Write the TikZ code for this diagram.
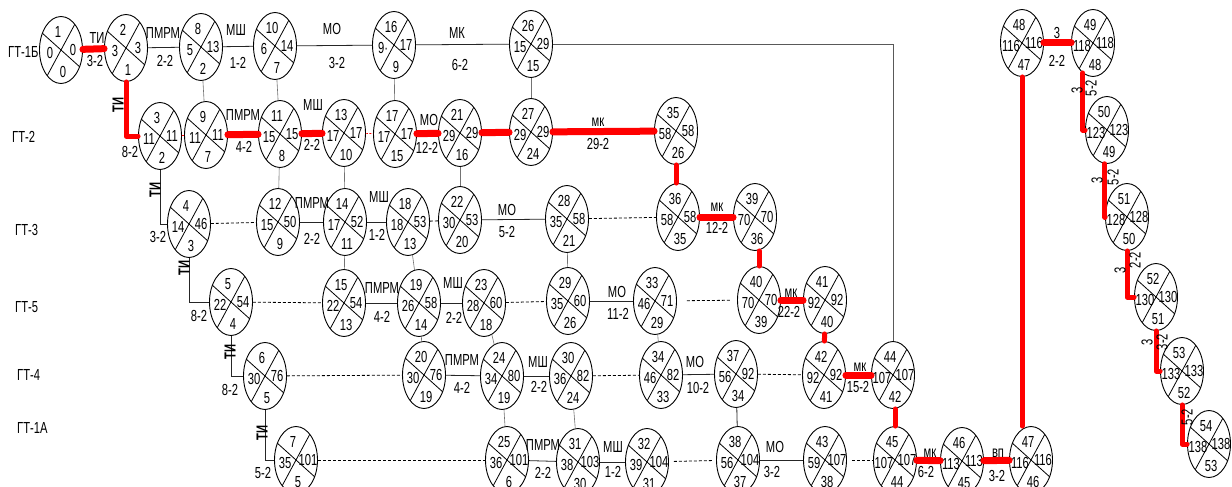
\documentclass[tikz,border=0pt]{standalone}
\usepackage{fontspec}
\setmainfont[FakeStretch=0.7]{Liberation Sans}
\usetikzlibrary{shapes.geometric,calc}
\tikzset{
 nd/.style={ellipse,draw,line width=0.9pt,minimum width=43pt,minimum height=67pt,inner sep=0pt},
 ndline/.style={line width=0.8pt},
 num/.style={inner sep=0pt,font=\fontsize{16}{16}\selectfont},
 lab/.style={inner sep=0pt,font=\fontsize{16}{16}\selectfont},
 rlab/.style={lab,rotate=90},
 tilab/.style={lab,rotate=90,font=\fontsize{16}{16}\selectfont\bfseries},
 crit/.style={draw=red,line width=7pt,line cap=round},
 critv/.style={draw=red,line width=5pt,line cap=round,line join=round},
 wk/.style={draw=black!85,line width=0.8pt},
 gline/.style={draw=black!65,line width=0.9pt},
 dsh/.style={draw=black,line width=0.8pt,dash pattern=on 3pt off 2pt},
 vlink/.style={draw=black!55,line width=0.6pt},
 rdot/.style={draw=red,line width=0.6pt,dash pattern=on 2pt off 1.5pt},
}
\newcommand\mynode[7]{%
  \node[nd] (#1) at (#2,#3) {};
  \draw[ndline] ($(#1.center)+(-18.6,-16.75)$) -- ($(#1.center)+(18.6,16.75)$);
  \draw[ndline] ($(#1.center)+(-13.8,25.7)$) -- ($(#1.center)+(13.8,-25.7)$);
  \node[num] (#1t) at ($(#1.center)+(-3,-18)$) {#4};
  \node[num] (#1l) at ($(#1.center)+(-11,3)$) {#5};
  \node[num] (#1r) at ($(#1.center)+(12,0)$) {#6};
  \node[num] (#1b) at ($(#1.center)+(2,22)$) {#7};
}
\begin{document}
\begin{tikzpicture}[x=1pt,y=-1pt]
\fill[white] (0,0) rectangle (1232,487);
\useasboundingbox (0,0) rectangle (1232,487);
% row labels
\node[lab,anchor=west] (g1) at (8,52) {ГТ-1Б};
\node[lab,anchor=west] (g2) at (12,137) {ГТ-2};
\node[lab,anchor=west] (g3) at (15,230) {ГТ-3};
\node[lab,anchor=west] (g5) at (15,307) {ГТ-5};
\node[lab,anchor=west] (g4) at (17,375) {ГТ-4};
\node[lab,anchor=west] (g1a) at (17,428) {ГТ-1А};
% nodes row 1
\mynode{n1}{61}{50}{1}{0}{0}{0}
\mynode{n2}{126}{48}{2}{3}{3}{1}
\mynode{n8}{201}{47}{8}{5}{13}{2}
\mynode{n10}{275}{46}{10}{6}{14}{7}
\mynode{n16}{394}{45}{16}{9·}{17}{9}
\mynode{n26}{531}{44}{26}{15}{29}{15}
% row 2
\mynode{n3}{160}{136}{3}{11}{11}{2}
\mynode{n9}{206}{135}{9}{11}{11}{7}
\mynode{n11}{280}{134}{11}{15}{15}{8}
\mynode{n13}{344}{133}{13}{17}{17}{10}
\mynode{n17}{395}{134}{17}{17}{17}{15}
\mynode{n21}{460}{133}{21}{29}{29}{16}
\mynode{n27}{531}{132}{27}{29}{29}{24}
\mynode{n35}{676}{131}{35}{58}{58}{26}
% row 3
\mynode{n4}{189}{224}{4}{14}{46}{3}
\mynode{n12}{278}{222}{12}{15}{50}{9}
\mynode{n14}{345}{222}{14}{17}{52}{11}
\mynode{n18}{408}{222}{18}{18}{53}{13}
\mynode{n22}{460}{220}{22}{30}{53}{20}
\mynode{n28}{567}{219}{28}{35}{58}{21}
\mynode{n36}{678}{217}{36}{58}{58}{35}
\mynode{n39}{755}{217}{39}{70}{70}{36}
% row 4
\mynode{n5}{231}{302}{5}{22}{54}{4}
\mynode{n15}{344}{303}{15}{22}{54}{13}
\mynode{n19}{419}{303}{19}{26}{58}{14}
\mynode{n23}{484}{303}{23}{28}{60}{18}
\mynode{n29}{568}{301}{29}{35}{60}{26}
\mynode{n33}{655}{301}{33}{46}{71}{29}
\mynode{n40}{759}{300}{40}{70}{70}{39}
\mynode{n41}{825}{300}{41}{92}{92}{40}
% row 5
\mynode{n6}{265}{376}{6}{30}{76}{5}
\mynode{n20}{424}{375}{20}{30}{76}{19}
\mynode{n24}{502}{376}{24}{34}{80}{19}
\mynode{n30}{571}{376}{30}{36}{82}{24}
\mynode{n34}{661}{375}{34}{46}{82}{33}
\mynode{n37}{736}{374}{37}{56}{92}{34}
\mynode{n42}{824}{375}{42}{92}{92}{41}
\mynode{n44}{893}{375}{44}{107}{107}{42}
% row 6
\mynode{n7}{296}{460}{7}{35}{101}{5}
\mynode{n25}{507}{460}{25}{36}{101}{6}
\mynode{n31}{578}{462}{31}{38}{103}{30}
\mynode{n32}{647}{462}{32}{39}{104}{31}
\mynode{n38}{738}{460}{38}{56}{104}{37}
\mynode{n43}{825}{460}{43}{59}{107}{38}
\mynode{n45}{895}{460}{45}{107}{107}{44}
\mynode{n46}{962}{461}{46}{113}{113}{45}
\mynode{n47}{1031}{460}{47}{116}{116}{46}
% right cluster
\mynode{n48}{1022}{43}{48}{116}{116}{47}
\mynode{n49}{1093}{43}{49}{118}{118}{48}
\mynode{n50}{1107}{130}{50}{123}{123}{49}
\mynode{n51}{1127}{217}{51}{128}{128}{50}
\mynode{n52}{1156}{297}{52}{130}{130}{51}
\mynode{n53}{1182}{371}{53}{133}{133}{52}
\mynode{n54}{1209}{444}{54}{138}{138}{53}
% thin work lines
\foreach \a/\b in {n2/n8,n8/n10,n10/n16,n16/n26,n12/n14,n14/n18,n22/n28,n15/n19,n19/n23,n29/n33,n20/n24,n24/n30,n34/n37,n25/n31,n31/n32,n38/n43}
  \draw[wk] (\a) -- (\b);
\draw[gline] (n26) -| (n44);
% dashed
\foreach \a/\b in {n4/n12,n18/n22,n28/n36,n5/n15,n23/n29,n6/n20,n30/n34,n37/n42,n7/n25}
  \draw[dsh] (\a) -- (\b);
\draw[dsh,shorten <=10pt,shorten >=6pt] (n33) -- (n40);
\draw[dsh,shorten <=5pt,shorten >=3pt] (n32) -- (n38);
\draw[dsh,shorten <=5pt] (n43) -- (n45);
% vertical links
\foreach \a/\b in {n8/n9,n10/n11,n16/n17,n26/n27,n11/n12,n13/n14,n21/n22,n14/n15,n18/n19,n28/n29,n19/n20,n23/n24,n33/n34,n24/n25,n30/n31}
  \draw[vlink] (\a) -- (\b);
\draw[wk] (n37) -- (n38);
% red dotted
\draw[rdot] (n3) -- (n9);
\draw[rdot] (n13) -- (n17);
% black elbows
\draw[wk] (n3.south) |- (n4.west);
\draw[wk] (n4.south) |- (n5.west);
\draw[wk] (n5.south) |- (n6.west);
\draw[wk] (n6.south) |- (n7.west);
% critical path
\foreach \a/\b in {n1/n2,n9/n11,n11/n13,n17/n21,n21/n27,n27/n35,n36/n39,n40/n41,n42/n44,n45/n46,n46/n47,n48/n49}
  \draw[crit] (\a) -- (\b);
\draw[critv] (n2.south) |- (n3.west);
\draw[critv] (n35.south) -- (n35.south |- n36.north);
\draw[critv] (n40.north |- n39.south) -- (n40.north);
\draw[critv] (n41) -- (n42);
\draw[critv] (n45.north |- n44.south) -- (n45.north);
\draw[critv] (n48.south) -- (n48.south |- n47.north);
\draw[critv] (n49.251) |- (n50.west);
\draw[critv] (n50.266) |- (n51.west);
\draw[critv] (n51.south) |- (n52.west);
\draw[critv] (n52.south) |- (n53.west);
\draw[critv] (n53.south) |- (n54.west);
% edge labels
\node[lab] (e1a) at (97,38) {ТИ};   \node[lab] (e1b) at (95,61) {3-2};
\node[lab] (e2a) at (163,33) {ПМРМ}; \node[lab] (e2b) at (165,61) {2-2};
\node[lab] (e3a) at (236,30) {МШ};  \node[lab] (e3b) at (238,63) {1-2};
\node[lab] (e4a) at (332,29) {МО};  \node[lab] (e4b) at (337,63) {3-2};
\node[lab] (e5a) at (457,33) {МК};  \node[lab] (e5b) at (460,65) {6-2};
\node[tilab] (e6a) at (118,105) {ТИ}; \node[lab] (e6b) at (130,152) {8-2};
\node[lab] (e7a) at (243,115) {ПМРМ}; \node[lab] (e7b) at (244,147) {4-2};
\node[lab] (e8a) at (313,105) {МШ}; \node[lab] (e8b) at (312,145) {2-2};
\node[lab] (e9a) at (429,120) {МО}; \node[lab] (e9b) at (427,148) {12-2};
\node[lab] (e10a) at (598,122) {мк}; \node[lab] (e10b) at (598,144) {29-2};
\node[tilab] (e11a) at (155,190) {ТИ}; \node[lab] (e11b) at (158,237) {3-2};
\node[lab] (e12a) at (312,203) {ПМРМ}; \node[lab] (e12b) at (312,239) {2-2};
\node[lab] (e13a) at (379,197) {МШ}; \node[lab] (e13b) at (377,235) {1-2};
\node[lab] (e14a) at (507,210) {МО}; \node[lab] (e14b) at (507,232) {5-2};
\node[lab] (e15a) at (717,207) {мк}; \node[lab] (e15b) at (717,228) {12-2};
\node[tilab] (e16a) at (184,268) {ТИ}; \node[lab] (e16b) at (199,316) {8-2};
\node[lab] (e17a) at (382,288) {ПМРМ}; \node[lab] (e17b) at (382,317) {4-2};
\node[lab] (e18a) at (453,283) {МШ}; \node[lab] (e18b) at (454,318) {2-2};
\node[lab] (e19a) at (617,292) {МО}; \node[lab] (e19b) at (618,314) {11-2};
\node[lab] (e20a) at (791,293) {мк}; \node[lab] (e20b) at (789,312) {22-2};
\node[tilab] (e21a) at (230,352) {ТИ}; \node[lab] (e21b) at (230,390) {8-2};
\node[lab] (e22a) at (462,360) {ПМРМ}; \node[lab] (e22b) at (462,388) {4-2};
\node[lab] (e23a) at (538,362) {МШ}; \node[lab] (e23b) at (539,387) {2-2};
\node[lab] (e24a) at (695,362) {МО}; \node[lab] (e24b) at (698,388) {10-2};
\node[lab] (e25a) at (860,367) {мк}; \node[lab] (e25b) at (858,387) {15-2};
\node[tilab] (e26a) at (262,433) {ТИ}; \node[lab] (e26b) at (263,473) {5-2};
\node[lab] (e27a) at (543,445) {ПМРМ}; \node[lab] (e27b) at (543,473) {2-2};
\node[lab] (e28a) at (613,447) {МШ}; \node[lab] (e28b) at (613,472) {1-2};
\node[lab] (e29a) at (775,447) {МО}; \node[lab] (e29b) at (772,472) {3-2};
\node[lab] (e30a) at (930,453) {мк}; \node[lab] (e30b) at (926,472) {6-2};
\node[lab] (e31a) at (998,453) {вп}; \node[lab] (e31b) at (997,476) {3-2};
\node[lab] (e32a) at (1057,33) {3}; \node[lab] (e32b) at (1057,61) {2-2};
\node[rlab] (e33a) at (1077,90) {3}; \node[rlab] (e33b) at (1091,88) {5-2};
\node[rlab] (e34a) at (1097,180) {3}; \node[rlab] (e34b) at (1113,177) {5-2};
\node[rlab] (e35a) at (1120,270) {3}; \node[rlab] (e35b) at (1135,260) {2-2};
\node[rlab] (e36a) at (1147,342) {3}; \node[rlab] (e36b) at (1162,342) {3-2};
\node[rlab] (e37b) at (1187,417) {5-2};
\end{tikzpicture}
\end{document}
